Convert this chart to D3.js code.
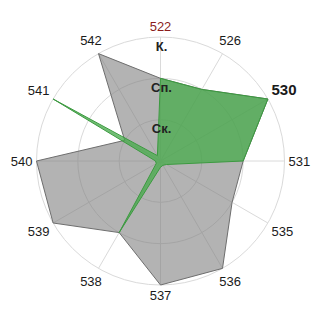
<!DOCTYPE html>
<html>
<head>
<meta charset="UTF-8" />
<title>Radar</title>
<script src="https://cdn.jsdelivr.net/npm/d3@7"></script>
<style>
  html, body { margin: 0; padding: 0; background: #fff; }
  svg { display: block; }
</style>
</head>
<body>
<script>
// chart values
var categories = ["522", "526", "530", "531", "535", "536", "537", "538", "539", "540", "541", "542"];
var grayValues = [2, 2, 3, 2, 2, 3, 3, 2, 3, 3, 1, 3];
var greenValues = [2, 2, 3, 2, 0.17, 0.12, 0.15, 2, 0.12, 0.12, 3, 0.15];
var levelTicks = [1, 2, 3];
var levelLabels = ["Ск.", "Сп.", "К."];

var W = 320, H = 320;
var cx = 160.5, cy = 161, R = 124;
var font = "'Liberation Sans', Arial, sans-serif";

var svg = d3.select("body").append("svg")
  .attr("width", W).attr("height", H);

var r = d3.scaleLinear().domain([0, 3]).range([0, R]);
var angle = d3.scalePoint().domain(categories).range([0, 2 * Math.PI * (categories.length - 1) / categories.length]);

var g = svg.append("g").attr("transform", "translate(" + cx + "," + cy + ")");

// grid rings + spokes
g.selectAll("circle.ring").data(levelTicks).enter().append("circle")
  .attr("class", "ring")
  .attr("r", function(d) { return r(d); })
  .attr("fill", "none").attr("stroke", "#dadada").attr("stroke-width", 1);

g.selectAll("line.spoke").data(categories).enter().append("line")
  .attr("class", "spoke")
  .attr("x1", 0).attr("y1", 0)
  .attr("x2", function(d) { return R * Math.sin(angle(d)); })
  .attr("y2", function(d) { return -R * Math.cos(angle(d)); })
  .attr("stroke", "#dadada").attr("stroke-width", 1);

function radarLine(values) {
  return d3.lineRadial()
    .angle(function(d, i) { return angle(categories[i]); })
    .radius(function(d) { return r(d); })
    .curve(d3.curveLinearClosed)(values);
}

g.append("path")
  .attr("d", radarLine(grayValues))
  .attr("fill", "rgba(128,128,128,0.6)")
  .attr("stroke", "#6e6e6e").attr("stroke-width", 1)
  .attr("stroke-linejoin", "miter");

g.append("path")
  .attr("d", radarLine(greenValues))
  .attr("fill", "rgba(66,172,70,0.72)")
  .attr("stroke", "#3c9a40").attr("stroke-width", 1)
  .attr("stroke-linejoin", "miter");

// level labels on the top spoke
g.selectAll("text.level").data(levelTicks).enter().append("text")
  .attr("class", "level")
  .attr("x", 1)
  .attr("y", function(d) { return -r(d) + 9; })
  .attr("dy", "0.35em")
  .attr("text-anchor", "middle")
  .style("font-family", font).style("font-size", "13px").style("font-weight", "bold")
  .attr("fill", "#222")
  .text(function(d, i) { return levelLabels[i]; });

// category labels
var labels = g.selectAll("text.cat").data(categories).enter().append("text")
  .attr("class", "cat")
  .attr("text-anchor", "middle")
  .attr("dy", "0.35em")
  .style("font-family", font)
  .style("font-size", function(d) { return d === "530" ? "15px" : "13px"; })
  .style("font-weight", function(d) { return d === "530" ? "bold" : "normal"; })
  .attr("fill", function(d) { return d === "522" ? "#8b1c1c" : "#1a1a1a"; })
  .text(function(d) { return d; });

labels.each(function(d) {
  var a = angle(d);
  var bb = this.getBBox();
  var fs = d === "530" ? 15 : 13;
  var dist = R + 4 + Math.abs(Math.sin(a)) * bb.width / 2 + Math.abs(Math.cos(a)) * fs / 2;
  d3.select(this)
    .attr("x", dist * Math.sin(a))
    .attr("y", -dist * Math.cos(a));
});
</script>
</body>
</html>
